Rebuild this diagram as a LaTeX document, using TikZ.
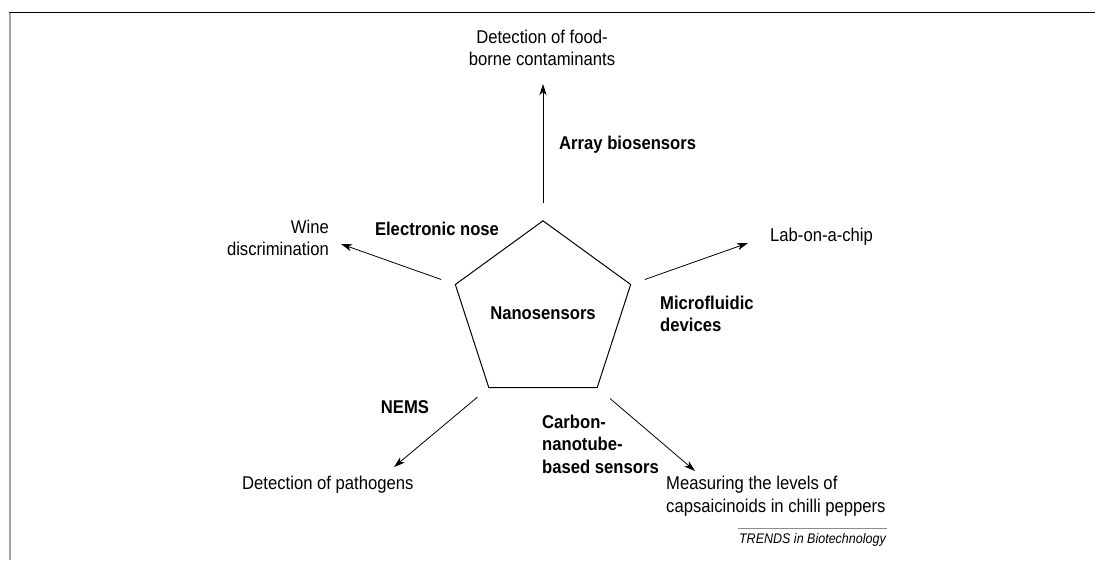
\documentclass[tikz,border=0pt]{standalone}
\usepackage{fontspec}
\setmainfont{Liberation Sans}[FakeStretch=0.9]
\usetikzlibrary{arrows.meta,positioning,shapes.geometric}

\begin{document}
\begin{tikzpicture}[
  x=1pt,y=-1pt,
  font=\fontsize{18.5}{22.5}\selectfont,
  hub/.style={regular polygon,regular polygon sides=5,draw,line width=1pt,minimum size=182pt,inner sep=0pt,outer sep=0pt,font=\fontsize{18.5}{22.5}\selectfont\bfseries},
  use/.style={inner sep=1pt},
  tech/.style={font=\fontsize{18.5}{22.5}\selectfont\bfseries,align=left,inner sep=1pt},
  arr/.style={-{Stealth[length=11pt,width=7pt,inset=3pt]},line width=0.8pt},
  >=Stealth
]
\useasboundingbox (0,0) rectangle (1095,560);
% frame of the figure
\draw[line width=1.6pt] (9,12.5) -- (1095,12.5);
\draw[line width=1.3pt,black!35] (10,13) -- (10,560);

\node[hub] (nano) at (543,313) {Nanosensors};

% applications
\node[use,align=center] (food) at (542,48) {Detection of food-\\borne contaminants};
\node[use,align=right,anchor=east] (wine) at (330,238) {Wine\\discrimination};
\node[use,anchor=west] (lab) at (769,237) {Lab-on-a-chip};
\node[use,anchor=west] (patho) at (241,485) {Detection of pathogens};
\node[use,align=left,anchor=west] (caps) at (665,496) {Measuring the levels of\\capsaicinoids in chilli peppers};

% techniques
\node[tech,anchor=west] (array) at (558,145) {Array biosensors};
\node[tech] (enose) at (437,229) {Electronic nose};
\node[tech,anchor=west] (micro) at (659,314) {Microfluidic\\devices};
\node[tech] (nems) at (405,407) {NEMS};
\node[tech,anchor=west] (cnt) at (541,444) {Carbon-\\nanotube-\\based sensors};

\coordinate (tfood) at (543,84);
\coordinate (twine) at (341,244);
\coordinate (tlab) at (748,243);
\coordinate (tpatho) at (394,467);
\coordinate (tcaps) at (695,471);

\draw[arr,shorten <=18pt] (nano.corner 1) -- (tfood);
\draw[arr,shorten <=15pt] (nano.corner 2) -- (twine);
\draw[arr,shorten <=15pt] (nano.corner 5) -- (tlab);
\draw[arr,shorten <=15pt] (nano.corner 3) -- (tpatho);
\draw[arr,shorten <=17pt] (nano.corner 4) -- (tcaps);

\node[font=\fontsize{13.9}{16}\selectfont\itshape,anchor=east,inner sep=1pt] (trends) at (887,540) {TRENDS in Biotechnology};
\draw[black!45,line width=0.5pt] ([yshift=4pt]trends.north west) -- ([yshift=4pt]trends.north east);
\end{tikzpicture}
\end{document}
